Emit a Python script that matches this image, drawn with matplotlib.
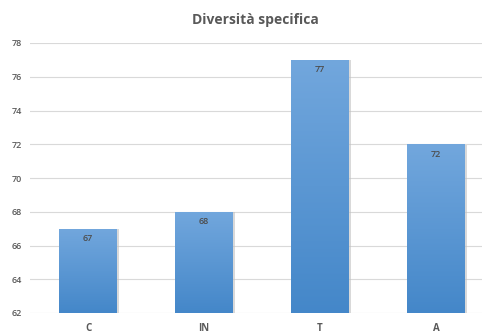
import matplotlib.pyplot as plt
import numpy as np
from matplotlib.colors import LinearSegmentedColormap

categories = ['C', 'IN', 'T', 'A']
values = [67, 68, 77, 72]
y_ticks = [62, 64, 66, 68, 70, 72, 74, 76, 78]

plt.rcParams['font.family'] = ['Open Sans', 'DejaVu Sans']

fig = plt.figure(figsize=(4.82, 3.33), dpi=100)
ax = fig.add_axes([30 / 482, 20 / 333, 464 / 482, 270 / 333])

ax.set_ylim(62, 78)
ax.set_yticks(y_ticks)
ax.yaxis.grid(True, color='#d9d9d9', linewidth=0.8)
ax.set_axisbelow(True)
for s in ax.spines.values():
    s.set_visible(False)
ax.tick_params(axis='both', length=0, colors='#595959')
ax.tick_params(axis='y', labelsize=6.5, pad=6)
ax.tick_params(axis='x', labelsize=7, pad=7)
ax.set_xticks(range(len(categories)))
ax.set_xticklabels(categories, fontweight='bold')
for t in ax.get_yticklabels():
    t.set_fontweight('semibold')

cmap = LinearSegmentedColormap.from_list('bar', ['#4487c9', '#72a7dd'])
grad = np.linspace(0, 1, 256).reshape(-1, 1)

bars = ax.bar(range(len(categories)), [v - 62 for v in values], bottom=62,
              width=0.5, color='none', edgecolor='none', zorder=3)
for i, (b, v) in enumerate(zip(bars, values)):
    x0 = b.get_x()
    w = b.get_width()
    # soft shadow on the right edge
    ax.fill_between([x0 + w, x0 + w + 0.02], 62, v - 0.03, color='#c0c0c0',
                    alpha=0.6, zorder=2, linewidth=0)
    im = ax.imshow(grad, cmap=cmap, origin='lower', aspect='auto',
                   extent=[x0, x0 + w, 62, v], zorder=3)
    im.set_clip_path(b)
    ax.text(i, v - 0.6, str(v), ha='center', va='center', fontsize=6.5,
            color='#4d4d4d', fontweight='semibold', zorder=4)

ax.set_xlim(-0.5, 3.5)
ax.set_ylim(62, 78)

fig.text(255 / 482, 1 - 20 / 333, 'Diversità specifica', ha='center',
         va='center', fontsize=10, fontweight='bold', color='#595959')

fig.savefig('out.png', dpi=100)
